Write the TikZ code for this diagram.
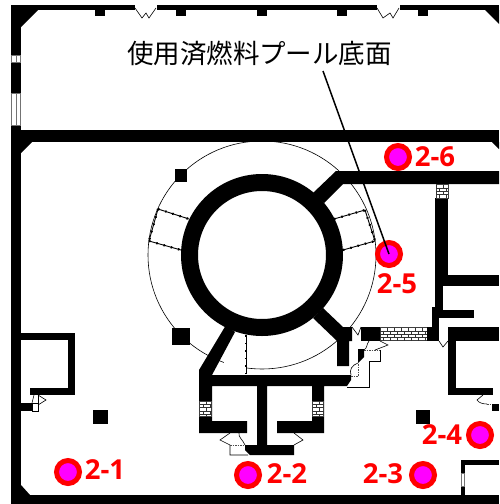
\documentclass[tikz,border=0pt]{standalone}
\usepackage{fontspec}
\newfontfamily\cjkfont{Noto Sans CJK JP}
\newfontfamily\labfont{Open Sans}
\definecolor{mkred}{RGB}{255,0,0}
\definecolor{mkmag}{RGB}{255,0,255}
\newcommand{\brickpatch}[4]{% x0,y0,x1,y1
  \fill[white] (#1,#2) rectangle (#3,#4);
  \draw[black!75,line width=.5pt] (#1,#2) rectangle (#3,#4);
  \pgfmathsetmacro{\brickrows}{int((#4-#2)/3.4)}
  \foreach \r in {1,...,\brickrows}{
    \pgfmathsetmacro{\yy}{#2+\r*3.4}
    \draw[black!80,line width=.7pt] (#1,\yy) -- (#3,\yy);
  }
  \begin{scope}
  \clip (#1,#2) rectangle (#3,#4);
  \foreach \r in {0,...,\brickrows}{
    \pgfmathsetmacro{\ya}{#2+\r*3.4}
    \pgfmathsetmacro{\yb}{\ya+3.4}
    \pgfmathsetmacro{\off}{mod(\r,2)*3.5}
    \foreach \k in {0,...,14}{
      \pgfmathsetmacro{\xx}{#1+\off+\k*7}
      \draw[black!80,line width=.6pt] (\xx,\ya) -- (\xx,\yb);
    }
  }
  \end{scope}
}
\tikzset{
  wall/.style={fill=black,draw=none},
  thin line/.style={draw=black,line width=.6pt},
  dash line/.style={draw=black!70,line width=.7pt,dash pattern=on 1.5pt off 1pt},
  rail/.style={draw=black,line width=.9pt,postaction={draw,line width=2.2pt,dash pattern=on 1.5pt off 6pt}},
  glass/.style={fill=white,draw=black!55,line width=.6pt},
  marker/.style={circle,fill=mkmag,draw=mkred,line width=5pt,minimum size=23pt,inner sep=0pt},
  lab/.style={text=mkred,font=\labfont\bfseries\fontsize{27.5}{28}\selectfont,inner sep=0pt},
  title/.style={text=black,font=\cjkfont\fontsize{26.5}{27}\selectfont,inner sep=0pt},
  leader/.style={draw=black,line width=1.5pt}
}
\begin{document}
\begin{tikzpicture}[x=1pt,y=-1pt]
\useasboundingbox (0,0) rectangle (499,504);
\fill[white] (0,0) rectangle (499,504);

% thin circle
\draw[thin line] (262,255) circle [radius=114pt];
\fill[white] (224,352) rectangle (246.3,373);

% outer walls
\fill[wall] (11,5) rectangle (21,504);
\fill[wall] (11,5) rectangle (135,10);
\fill[wall] (157,5) rectangle (377,10);
\fill[wall] (400,5) rectangle (499,10);
\fill[wall] (21,10) -- (38,10) -- (21,27) -- cycle;
\fill[wall] (485,10) -- (499,10) -- (499,24) -- cycle;
\fill[wall] (21,130) rectangle (499,142);
\fill[wall] (21,142) -- (32,142) -- (21,153) -- cycle;
\fill[wall] (492,142) -- (499,142) -- (499,149) -- cycle;
\fill[wall] (11,495) rectangle (499,504);
\fill[wall] (21,485) -- (30,495) -- (21,495) -- cycle;

% pilasters
\foreach \x in {95,176,257,337,418} \fill[wall] (\x,10) rectangle (\x+10,16);

% top doors
\draw[thin line] (135,8) -- (142,18) -- (146,13) -- (149,18) -- (156,8);
\draw[thin line] (377,8) -- (383,18) -- (390,13) -- (393,18) -- (399,8);

% left windows
\draw[glass] (11.5,55) rectangle (20.5,62);
\draw[glass] (11.5,93) rectangle (20.5,125);
\draw[black!55,line width=.6pt] (16,55) -- (16,62) (16,93) -- (16,125);

% ring and walls round it
\draw[black,line width=17pt] (262,255) circle [radius=72.5pt];
\fill[wall] (313,193) -- (336,171) -- (499,171) -- (499,184) -- (343,184) -- (324,203) -- cycle;
\fill[wall] (313,318) -- (323,308) -- (343,327) -- (352,327) -- (352,341) -- (349,341) -- (349,366) -- (337,366) -- (337,341) -- cycle;
\fill[wall] (226,325) -- (235,332) -- (212,375) -- (351,375) -- (351,380) -- (347,386) -- (324,386) -- (324,433) -- (277,433) -- (277,421) -- (312,421) -- (312,386) -- (267,386) -- (267,445) -- (294,445) -- (294,455) -- (250,455) -- (245,450) -- (245,445) -- (257,445) -- (257,386) -- (212,386) -- (212,421) -- (247,421) -- (247,433) -- (199,433) -- (199,370) -- cycle;
\brickpatch{199.5}{401}{211.5}{416}
\brickpatch{312.5}{401}{323.5}{416}

% square columns
\fill[wall] (175,169) rectangle (187,182);
\fill[wall] (172,328) rectangle (190,345);
\fill[wall] (93,410) rectangle (108,424);
\fill[wall] (416,410) rectangle (430,424);

% rails
\draw[rail] (158,209) -- (189,219);
\draw[rail] (149,241) -- (181,250);
\draw[rail] (158,209) -- (149,241);
\draw[rail] (334,219) -- (365,210);
\draw[rail] (343,250) -- (375,241);
\draw[rail] (365,210) -- (375,241);
\draw[rail] (246,335) -- (246,374);

% right side walls
\fill[wall] (361,327) rectangle (380,341);
\brickpatch{380}{327.5}{427}{340.5}
\fill[wall] (427,327) rectangle (439,341);
\fill[wall] (432,307) rectangle (439,341);
\fill[wall] (435,198) rectangle (443,312);
\fill[wall] (443,198) rectangle (448,286);
\fill[wall] (448,275) rectangle (499,286);
\fill[wall] (439,310) rectangle (474,318);
\brickpatch{436}{184.5}{448}{198}
\fill[wall] (448,327) rectangle (499,341);
\fill[wall] (448,341) rectangle (456,395);
\fill[wall] (456,388) rectangle (493,395);
\fill[wall] (492,404) rectangle (499,411);

% left room
\fill[wall] (21,333) rectangle (75,340);
\fill[wall] (68,340) rectangle (75,395);
\fill[wall] (30,388) rectangle (68,395);
\fill[wall] (21,403) rectangle (32,411);

% bottom right room
\fill[wall] (461,460) rectangle (499,465);
\fill[wall] (461,465) rectangle (465,495);
\draw[glass] (461.5,473) rectangle (464.5,486);

% small door symbols
\draw[thin line] (352,327) -- (358,335) -- (361,327);
\draw[thin line] (439,341) -- (443,347) -- (448,341);
\draw[thin line] (483,395) -- (477,400) .. controls (479,403) and (483,404) .. (487,404);
\draw[dash line] (487,404) -- (492,404);
\draw[thin line] (34,395) -- (32,403) (38,395) -- (46,400) -- (38,405);
\draw[thin line] (32,403) rectangle (38,411);
\draw[thin line] (38,395) -- (38,411);
\draw[thin line] (230,433) -- (220,440) -- (230,445) -- (230,455) -- (248,455);
\draw[thin line] (239,433) .. controls (238,437) and (243,440) .. (245,445);
\draw[dash line] (230,445) -- (245,445);
\draw[thin line] (294,433) -- (303,440) -- (294,445);

% stepped outline
\draw[thin line] (347,387) -- (369,387) -- (369,361) -- (380,361) -- (380,350);
\draw[dash line] (364,350) -- (380,350);
\draw[thin line] (380,341) -- (388,345) -- (375,350);
\draw[thin line] (369,341) .. controls (366,345) and (368,347) .. (364,350);
\fill[wall] (358,349) -- (364,349) -- (364,357) -- (358,363) -- cycle;
\draw[thin line] (358,363) .. controls (352,365) and (349,370) .. (351,375);
\draw[dash line] (351,376) -- (358,376) -- (358,364);

% title, leader, markers
\node[title] (titletext) at (259.5,53) {使用済燃料プール底面};
\coordinate (leaderstart) at (323,71);
\node[marker] (m1) at (68,472) {};
\node[marker] (m2) at (248,475) {};
\node[marker] (m3) at (423,475) {};
\node[marker] (m4) at (480,435) {};
\node[marker] (m5) at (389,254) {};
\node[marker] (m6) at (398,157) {};
\draw[leader] (leaderstart) -- (m5.center);
\node[lab] (l1) at (105,470) {2-1};
\node[lab] (l2) at (287,474) {2-2};
\node[lab] (l3) at (383,474) {2-3};
\node[lab] (l4) at (442,435) {2-4};
\node[lab] (l5) at (397,284) {2-5};
\node[lab] (l6) at (435,157) {2-6};
\end{tikzpicture}
\end{document}
